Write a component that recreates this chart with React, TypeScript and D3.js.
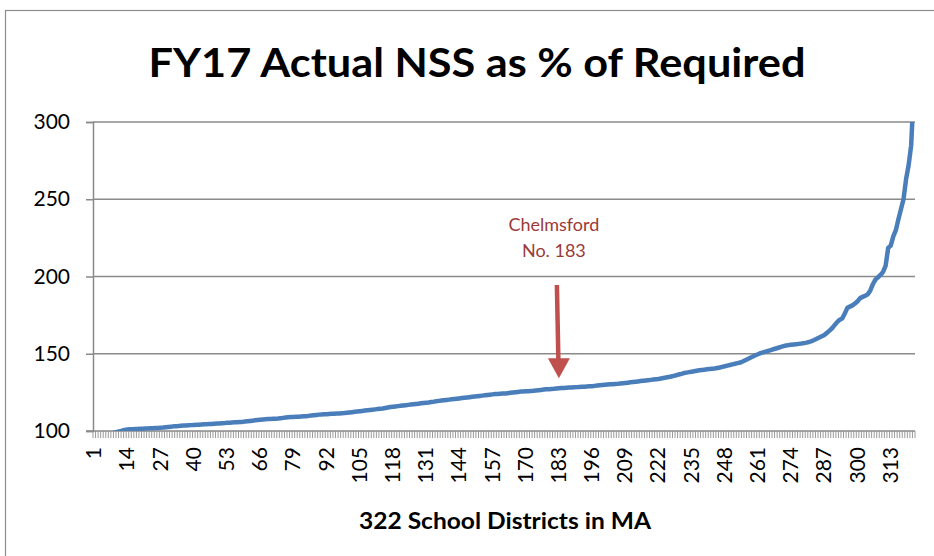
import React, { useEffect, useRef } from "react";
import * as d3 from "d3";

// NSS as % of required, sorted, one value per district (1..322)
const nssPct: number[] = [
  86.0, 90.5, 93.0, 95.0, 96.3, 97.2, 97.9, 98.5, 99.0, 99.4,
  99.8, 100.3, 100.7, 101.0, 101.1, 101.2, 101.3, 101.3, 101.4, 101.5,
  101.6, 101.7, 101.8, 101.8, 101.9, 102.0, 102.1, 102.2, 102.4, 102.6,
  102.8, 103.0, 103.1, 103.2, 103.4, 103.5, 103.6, 103.7, 103.8, 103.9,
  104.0, 104.1, 104.2, 104.3, 104.4, 104.5, 104.6, 104.7, 104.8, 104.9,
  105.0, 105.1, 105.3, 105.4, 105.5, 105.6, 105.7, 105.8, 105.9, 106.1,
  106.3, 106.5, 106.7, 106.9, 107.1, 107.3, 107.5, 107.6, 107.7, 107.8,
  107.9, 108.0, 108.1, 108.3, 108.5, 108.7, 108.9, 109.0, 109.1, 109.2,
  109.3, 109.4, 109.5, 109.6, 109.8, 110.0, 110.2, 110.4, 110.6, 110.7,
  110.8, 110.9, 111.0, 111.1, 111.2, 111.3, 111.4, 111.5, 111.6, 111.8,
  112.0, 112.2, 112.4, 112.6, 112.8, 113.0, 113.2, 113.4, 113.6, 113.8,
  114.0, 114.2, 114.4, 114.6, 114.9, 115.2, 115.5, 115.7, 115.9, 116.1,
  116.3, 116.5, 116.7, 116.9, 117.1, 117.3, 117.5, 117.7, 117.9, 118.1,
  118.3, 118.5, 118.8, 119.0, 119.3, 119.5, 119.7, 119.9, 120.1, 120.3,
  120.5, 120.7, 120.9, 121.1, 121.3, 121.5, 121.7, 121.9, 122.1, 122.3,
  122.5, 122.7, 122.9, 123.1, 123.3, 123.5, 123.7, 123.9, 124.0, 124.1,
  124.2, 124.3, 124.5, 124.7, 124.9, 125.1, 125.3, 125.5, 125.6, 125.7,
  125.8, 125.9, 126.0, 126.2, 126.4, 126.6, 126.8, 127.0, 127.1, 127.2,
  127.3, 127.5, 127.7, 127.8, 127.9, 128.0, 128.1, 128.2, 128.3, 128.4,
  128.5, 128.6, 128.7, 128.8, 128.9, 129.0, 129.2, 129.4, 129.6, 129.8,
  130.0, 130.1, 130.2, 130.3, 130.4, 130.5, 130.7, 130.9, 131.1, 131.3,
  131.5, 131.7, 131.9, 132.1, 132.3, 132.5, 132.7, 132.9, 133.1, 133.3,
  133.5, 133.7, 134.0, 134.3, 134.6, 134.9, 135.3, 135.7, 136.1, 136.6,
  137.0, 137.5, 137.8, 138.1, 138.4, 138.7, 139.0, 139.3, 139.5, 139.7,
  139.9, 140.1, 140.3, 140.5, 140.8, 141.1, 141.5, 141.9, 142.3, 142.7,
  143.1, 143.5, 143.9, 144.3, 145.0, 145.8, 146.6, 147.4, 148.2, 149.0,
  149.7, 150.4, 150.9, 151.4, 151.9, 152.4, 152.9, 153.4, 153.9, 154.4,
  154.9, 155.3, 155.6, 155.8, 156.0, 156.2, 156.4, 156.6, 156.9, 157.2,
  157.6, 158.2, 158.9, 159.7, 160.5, 161.3, 162.2, 163.5, 165.0, 166.5,
  168.5, 170.5, 172.0, 172.8, 176.0, 179.7, 180.5, 181.3, 182.5, 184.0,
  186.0, 186.8, 187.6, 188.5, 191.0, 195.0, 198.0, 199.5, 201.0, 203.0,
  207.0, 218.5, 220.0, 226.0, 230.0, 237.0, 243.5, 250.0, 263.0, 272.0,
  285.0, 320.0,
];

const districts: number[] = nssPct.map((_, i) => i + 1);
const yTicks: number[] = [100, 150, 200, 250, 300];
const labelEvery = 13;
const highlight = 183;
const titleText = "FY17 Actual NSS as % of Required";
const xTitle = "322 School Districts in MA";
const noteLines: string[] = ["Chelmsford", "No. 183"];

const W = 934;
const H = 556;
const margin = { top: 122, left: 93, right: 19, bottom: 125 };

export default function App() {
  const ref = useRef<SVGSVGElement>(null);

  useEffect(() => {
    const svg = d3.select(ref.current);
    svg.selectAll("*").remove();

    const iw = W - margin.left - margin.right;
    const ih = H - margin.top - margin.bottom;

    const x = d3.scaleBand<number>().domain(districts).range([margin.left, margin.left + iw]);
    const y = d3.scaleLinear().domain([100, 300]).range([margin.top + ih, margin.top]);

    // chart frame
    svg.append("rect")
      .attr("x", 5.5).attr("y", 10.5)
      .attr("width", W + 20).attr("height", H + 20)
      .attr("fill", "#fff").attr("stroke", "#8c8c8c").attr("stroke-width", 1.2);

    // title
    svg.append("text")
      .attr("x", 477).attr("y", 77)
      .attr("text-anchor", "middle")
      .style("font-family", "Lato, 'Open Sans', sans-serif")
      .style("font-weight", 700)
      .style("font-size", "41px")
      .attr("textLength", 657).attr("lengthAdjust", "spacingAndGlyphs")
      .text(titleText);

    // gridlines
    svg.append("g").selectAll("line").data(yTicks.filter(t => t > 100)).join("line")
      .attr("x1", margin.left).attr("x2", margin.left + iw)
      .attr("y1", d => y(d)).attr("y2", d => y(d))
      .attr("stroke", "#8a8a8a").attr("stroke-width", 1.5);

    // y axis
    const yAxis = svg.append("g")
      .attr("transform", `translate(${margin.left},0)`)
      .call(d3.axisLeft(y).tickValues(yTicks).tickSize(7).tickPadding(16));
    yAxis.select(".domain").attr("stroke", "#8a8a8a").attr("stroke-width", 1.5);
    yAxis.selectAll(".tick line").attr("stroke", "#8a8a8a").attr("stroke-width", 1.5);
    yAxis.selectAll(".tick text")
      .style("font-family", "Lato, sans-serif").style("font-size", "21px").attr("fill", "#000");

    // x axis: tick marks between every category
    const bounds = districts.map(d => x(d)!).concat([margin.left + iw]);
    svg.append("g").selectAll("line").data(bounds).join("line")
      .attr("x1", d => d).attr("x2", d => d)
      .attr("y1", y(100)).attr("y2", y(100) + 7)
      .attr("stroke", "#9a9a9a").attr("stroke-width", 1);
    svg.append("line")
      .attr("x1", margin.left - 7).attr("x2", margin.left + iw)
      .attr("y1", y(100)).attr("y2", y(100))
      .attr("stroke", "#8a8a8a").attr("stroke-width", 1.5);

    // x tick labels, rotated
    const labelled = districts.filter(d => (d - 1) % labelEvery === 0);
    svg.append("g").selectAll("text").data(labelled).join("text")
      .attr("transform", d => `translate(${x(d)! + x.bandwidth() / 2 + 7},${y(100) + 16}) rotate(-90)`)
      .attr("text-anchor", "end")
      .style("font-family", "Lato, sans-serif").style("font-size", "21px")
      .text(d => String(d));

    // x axis title
    svg.append("text")
      .attr("x", 505).attr("y", 529)
      .attr("text-anchor", "middle")
      .style("font-family", "Lato, sans-serif").style("font-weight", 700).style("font-size", "22px")
      .attr("textLength", 292).attr("lengthAdjust", "spacingAndGlyphs")
      .text(xTitle);

    // data line, clipped to plot area
    svg.append("clipPath").attr("id", "plotClip")
      .append("rect")
      .attr("x", margin.left).attr("y", margin.top)
      .attr("width", iw).attr("height", ih);

    const line = d3.line<number>()
      .x((_, i) => x(districts[i])! + x.bandwidth() / 2)
      .y(d => y(d));

    svg.append("path")
      .datum(nssPct)
      .attr("clip-path", "url(#plotClip)")
      .attr("fill", "none")
      .attr("stroke", "#4a7ebb")
      .attr("stroke-width", 4.5)
      .attr("stroke-linejoin", "round")
      .attr("d", line);

    // annotation
    const ax = x(highlight)! + x.bandwidth() / 2;
    const tipY = y(nssPct[highlight - 1]) - 10;
    const headY = tipY - 20;
    svg.append("line")
      .attr("x1", ax - 2).attr("x2", ax - 0.5)
      .attr("y1", y(194.5)).attr("y2", headY + 2)
      .attr("stroke", "#c0504d").attr("stroke-width", 4.5);
    svg.append("path")
      .attr("d", `M${ax - 11},${headY} L${ax + 11},${headY} L${ax},${tipY} Z`)
      .attr("fill", "#c0504d");

    svg.append("g").selectAll("text").data(noteLines).join("text")
      .attr("x", ax - 5)
      .attr("y", (_, i) => 231 + i * 26)
      .attr("text-anchor", "middle")
      .style("font-family", "Lato, sans-serif").style("font-size", "18px")
      .attr("fill", "#9b3a38")
      .text(d => d);
  }, []);

  return (
    <svg
      ref={ref}
      width={W}
      height={H}
      style={{ position: "absolute", left: 0, top: 0, display: "block" }}
    />
  );
}
